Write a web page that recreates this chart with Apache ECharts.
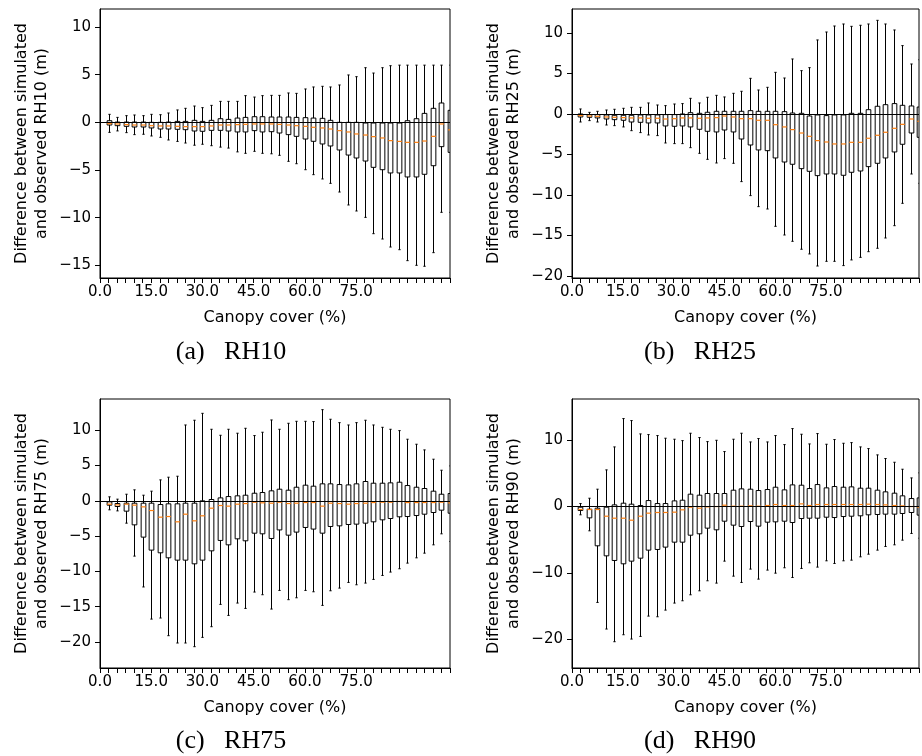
<!DOCTYPE html>
<html><head><meta charset="utf-8">
<script src="https://cdn.jsdelivr.net/npm/echarts@6/dist/echarts.min.js"></script>
<style>html,body{margin:0;padding:0;background:#fff}#c{width:922px;height:756px}</style>
</head><body><div id="c"></div>
<script>
// Box positions (1..41), canopy cover bins of 2.5 %
const positions = [1,2,3,4,5,6,7,8,9,10,11,12,13,14,15,16,17,18,19,20,21,22,23,24,25,26,27,28,29,30,31,32,33,34,35,36,37,38,39,40,41];
const xTickPositions = [0, 6, 12, 18, 24, 30];
const xTickLabels = ['0.0', '15.0', '30.0', '45.0', '60.0', '75.0'];

// RH10
const rh10High = [0.84,0.52,0.7,0.77,0.7,0.84,0.8,0.98,1.3,1.47,1.71,1.54,1.78,2.2,2.2,2.2,2.8,2.65,2.8,2.83,2.83,3.08,3.04,3.5,3.71,3.78,3.71,3.92,4.97,4.79,5.73,5.17,5.73,5.94,6.0,6.0,6.0,6.0,6.0,6.0,6.0];
const rh10Q3 = [0.17,0.03,0.03,0.03,0.03,0.0,0.0,0.03,0.1,0.1,0.21,0.1,0.21,0.38,0.31,0.45,0.52,0.59,0.59,0.56,0.56,0.56,0.52,0.49,0.45,0.42,0.21,0.0,0.0,0.0,-0.07,-0.07,-0.07,-0.07,-0.07,0.17,0.38,0.94,1.47,2.03,1.26];
const rh10Med = [-0.14,-0.17,-0.24,-0.28,-0.28,-0.35,-0.38,-0.38,-0.42,-0.45,-0.45,-0.45,-0.38,-0.28,-0.28,-0.24,-0.21,-0.17,-0.17,-0.17,-0.21,-0.28,-0.35,-0.42,-0.52,-0.59,-0.7,-0.87,-1.01,-1.22,-1.33,-1.5,-1.64,-1.92,-2.0,-2.1,-2.1,-1.96,-1.47,-0.17,-0.8];
const rh10Q1 = [-0.28,-0.35,-0.42,-0.49,-0.49,-0.59,-0.7,-0.7,-0.73,-0.77,-0.91,-0.94,-0.84,-0.84,-0.91,-1.01,-1.01,-0.87,-1.01,-0.98,-1.12,-1.29,-1.47,-1.75,-1.99,-2.27,-2.48,-2.9,-3.43,-3.74,-4.06,-4.72,-4.97,-5.31,-5.31,-5.73,-5.73,-5.45,-4.55,-2.55,-3.15];
const rh10Low = [-1.05,-0.9,-1.08,-1.29,-1.25,-1.43,-1.57,-1.85,-2.0,-2.17,-2.4,-2.3,-2.45,-2.6,-2.7,-3.1,-3.25,-3.04,-3.25,-3.3,-3.46,-4.09,-4.34,-4.97,-5.49,-5.94,-6.4,-7.31,-8.67,-9.3,-9.97,-11.68,-12.24,-13.08,-13.36,-14.51,-15.0,-15.1,-13.67,-9.44,-9.44];

// RH25
const rh25High = [0.62,0.2,0.33,0.49,0.58,0.7,0.82,0.82,1.36,1.11,1.03,1.23,1.28,1.93,1.36,2.06,2.3,2.1,2.55,2.8,4.4,2.96,3.29,5.14,4.44,6.79,5.35,5.72,9.14,10.12,10.86,11.11,10.82,10.95,11.11,11.56,11.11,10.37,8.44,6.17,6.7];
const rh25Q3 = [0.0,-0.08,-0.08,-0.12,-0.16,-0.16,-0.16,-0.12,-0.12,-0.12,-0.08,-0.08,0.0,0.16,0.08,0.21,0.33,0.33,0.33,0.33,0.41,0.33,0.33,0.33,0.29,0.12,0.08,-0.25,-0.12,-0.2,-0.12,-0.12,0.08,0.08,0.53,0.95,1.15,1.28,1.07,0.99,0.86];
const rh25Med = [-0.2,-0.25,-0.29,-0.37,-0.41,-0.45,-0.49,-0.49,-0.53,-0.53,-0.62,-0.58,-0.49,-0.49,-0.53,-0.49,-0.45,-0.25,-0.37,-0.58,-0.58,-0.78,-0.78,-1.32,-1.6,-1.93,-2.35,-2.76,-3.29,-3.46,-3.7,-3.7,-3.5,-3.5,-3.0,-2.63,-2.26,-1.77,-1.28,-0.62,-0.9];
const rh25Q1 = [-0.37,-0.41,-0.49,-0.62,-0.7,-0.78,-0.99,-1.03,-1.11,-1.11,-1.48,-1.52,-1.48,-1.6,-1.89,-2.14,-2.22,-1.98,-2.22,-3.09,-3.83,-4.44,-4.53,-5.43,-5.93,-6.21,-6.75,-7.08,-7.61,-7.41,-7.41,-7.57,-7.2,-7.04,-6.5,-6.09,-5.43,-4.69,-3.74,-2.35,-2.88];
const rh25Low = [-0.99,-0.82,-0.99,-1.36,-1.44,-1.6,-2.06,-2.3,-2.59,-2.67,-3.58,-3.66,-3.66,-4.16,-4.86,-5.6,-6.05,-5.51,-6.09,-8.35,-10.08,-11.44,-11.73,-13.87,-14.94,-15.72,-16.7,-17.28,-18.77,-18.19,-18.19,-18.72,-18.02,-17.7,-17.0,-16.58,-15.31,-13.79,-11.03,-7.41,-8.56];

// RH75
const rh75High = [0.57,0.24,0.94,1.56,0.8,1.37,2.97,3.35,3.49,10.75,11.42,12.4,10.14,9.29,10.14,9.58,10.28,9.25,9.72,11.46,10.14,10.99,11.27,11.27,11.23,12.92,11.56,11.08,10.75,11.08,11.42,10.75,10.42,10.14,9.95,8.73,8.02,7.22,5.9,4.34,4.95];
const rh75Q3 = [-0.14,-0.38,-0.33,-0.33,-0.33,-0.33,-0.52,-0.42,-0.42,-0.33,-0.33,0.0,0.19,0.42,0.61,0.71,0.8,1.08,1.18,1.42,1.65,1.51,1.93,2.22,2.08,2.41,2.41,2.31,2.26,2.41,2.74,2.5,2.5,2.55,2.64,2.17,1.93,1.75,1.37,0.94,1.04];
const rh75Med = [-0.47,-0.57,-0.47,-0.61,-0.85,-1.37,-2.31,-2.22,-2.97,-1.89,-2.83,-2.12,-1.04,-0.66,-0.75,-0.47,-0.38,-0.19,-0.28,-0.33,-0.19,-0.38,-0.33,-0.24,-0.24,-0.75,-0.33,-0.38,-0.47,-0.38,-0.33,-0.24,-0.19,-0.19,-0.09,-0.24,-0.24,-0.24,-0.24,-0.19,-0.28];
const rh75Q1 = [-0.61,-0.8,-1.46,-3.4,-5.14,-6.98,-7.36,-8.07,-8.4,-8.4,-8.92,-8.4,-7.08,-5.61,-6.23,-5.38,-5.66,-4.58,-4.67,-5.33,-4.12,-4.86,-4.43,-3.77,-4.0,-4.58,-3.63,-3.54,-3.35,-3.3,-3.16,-2.97,-2.69,-2.5,-2.26,-2.22,-2.08,-1.89,-1.65,-1.32,-1.75];
const rh75Low = [-1.27,-1.42,-3.16,-7.83,-12.2,-16.75,-16.6,-19.1,-20.14,-20.14,-20.66,-19.34,-17.83,-14.67,-16.23,-14.48,-15.24,-12.92,-13.3,-15.33,-12.69,-14.0,-13.73,-12.69,-12.88,-14.81,-12.74,-12.36,-11.56,-11.89,-11.65,-11.13,-10.57,-10.09,-9.62,-8.82,-8.07,-7.41,-6.23,-4.67,-5.75];

// RH90
const rh90High = [0.45,1.25,2.61,5.52,8.98,13.25,12.95,10.94,10.84,10.69,10.29,10.14,9.93,11.04,10.39,9.78,9.98,8.28,10.14,11.04,9.73,10.24,9.73,10.69,9.33,11.74,10.89,9.43,10.99,9.38,10.09,9.53,9.63,8.98,8.73,7.78,7.23,6.67,5.62,4.31,5.07];
const rh90Q3 = [-0.1,-0.4,-0.25,-0.1,0.25,0.5,0.35,0.15,0.9,0.45,0.45,0.85,0.95,1.86,1.71,1.96,1.96,1.96,2.46,2.66,2.61,2.41,2.56,2.91,2.51,3.26,3.21,2.71,3.31,2.81,3.01,2.91,2.96,2.76,2.76,2.46,2.21,2.01,1.61,1.2,1.3];
const rh90Med = [-0.45,-0.45,-0.45,-1.46,-1.76,-1.76,-2.06,-1.46,-1.0,-0.9,-0.9,-0.85,-0.5,-0.1,-0.25,-0.05,0.0,0.2,0.05,0.05,0.1,0.05,0.15,0.3,0.15,0.15,0.4,0.15,0.3,0.3,0.3,0.3,0.3,0.3,0.35,0.3,0.25,0.15,0.1,0.0,-0.1];
const rh90Q1 = [-0.6,-1.71,-5.92,-7.43,-8.13,-8.63,-8.23,-7.78,-6.57,-6.47,-6.12,-5.37,-5.37,-4.32,-4.11,-3.26,-3.51,-2.21,-2.81,-3.01,-2.26,-2.96,-2.36,-2.31,-2.21,-2.41,-1.81,-1.76,-1.76,-1.61,-1.66,-1.51,-1.46,-1.4,-1.25,-1.2,-1.15,-1.15,-1.05,-0.9,-1.3];
const rh90Low = [-1.25,-3.66,-14.45,-18.46,-20.37,-19.32,-19.97,-19.57,-16.51,-16.61,-15.61,-14.55,-14.2,-13.3,-12.7,-11.19,-11.54,-8.23,-10.49,-11.44,-9.43,-10.94,-9.58,-10.04,-9.23,-10.69,-9.33,-8.48,-9.13,-8.18,-8.58,-8.18,-8.08,-7.58,-7.18,-6.57,-6.02,-5.77,-5.07,-4.06,-4.77];

const panelNames = ['RH10', 'RH25', 'RH75', 'RH90'];
const panelCaptions = ['(a)\u2002 RH10', '(b)\u2002 RH25', '(c)\u2002 RH75', '(d)\u2002 RH90'];
const panelData = [
  [rh10Low, rh10Q1, rh10Med, rh10Q3, rh10High],
  [rh25Low, rh25Q1, rh25Med, rh25Q3, rh25High],
  [rh75Low, rh75Q1, rh75Med, rh75Q3, rh75High],
  [rh90Low, rh90Q1, rh90Med, rh90Q3, rh90High]
];
const yMin = [-16.33, -20.25, -23.68, -24.33];
const yMax = [11.89, 12.96, 14.43, 16.2];
const yStep = [5, 5, 5, 10];

const gridBoxes = [
  {left: 100, top: 9, width: 350, height: 269},
  {left: 572, top: 9, width: 350, height: 269},
  {left: 100, top: 399, width: 350, height: 269},
  {left: 572, top: 399, width: 350, height: 269}
];
const captionPos = [[231, 339], [700, 339], [231, 728], [700, 728]];

const FONT = 'DejaVu Sans';

function renderBox(params, api) {
  const x = api.value(0);
  const pLo = api.coord([x, api.value(1)]);
  const pQ1 = api.coord([x, api.value(2)]);
  const pMed = api.coord([x, api.value(3)]);
  const pQ3 = api.coord([x, api.value(4)]);
  const pHi = api.coord([x, api.value(5)]);
  const unit = api.size([1, 0])[0];
  const bw = unit * 0.55, cw = unit * 0.27;
  const cx = Math.round(pLo[0]) + 0.5;
  const st = {stroke: '#000', lineWidth: 1, fill: null};
  return {
    type: 'group',
    children: [
      {type: 'line', shape: {x1: cx, y1: pQ3[1], x2: cx, y2: pHi[1]}, style: st},
      {type: 'line', shape: {x1: cx, y1: pQ1[1], x2: cx, y2: pLo[1]}, style: st},
      {type: 'line', shape: {x1: cx - cw / 2, y1: pHi[1], x2: cx + cw / 2, y2: pHi[1]}, style: st},
      {type: 'line', shape: {x1: cx - cw / 2, y1: pLo[1], x2: cx + cw / 2, y2: pLo[1]}, style: st},
      {type: 'rect', shape: {x: cx - bw / 2, y: pQ3[1], width: bw, height: pQ1[1] - pQ3[1]}, style: {stroke: '#000', lineWidth: 1, fill: 'none'}},
      {type: 'line', shape: {x1: cx - bw / 2, y1: pMed[1], x2: cx + bw / 2, y2: pMed[1]}, style: {stroke: '#ff7f0e', lineWidth: 1.2}}
    ]
  };
}

const grid = [], xAxis = [], yAxis = [], series = [], title = [];
panelNames.forEach((name, i) => {
  grid.push(Object.assign({show: true, borderColor: '#000', borderWidth: 1, backgroundColor: 'transparent'}, gridBoxes[i]));
  xAxis.push({
    type: 'value', gridIndex: i, min: 0, max: 41, interval: 1,
    name: 'Canopy cover (%)', nameLocation: 'middle', nameGap: 32,
    nameTextStyle: {fontFamily: FONT, fontSize: 16, color: '#000'},
    axisLine: {show: true, onZero: false, lineStyle: {color: '#000', width: 1}},
    axisTick: {show: true, length: 5, inside: false, lineStyle: {color: '#000', width: 1}},
    splitLine: {show: false},
    axisLabel: {
      show: true, margin: 7, fontFamily: FONT, fontSize: 15, color: '#000', interval: 0,
      hideOverlap: false,
      formatter: v => { const k = xTickPositions.indexOf(Math.round(v)); return k >= 0 ? xTickLabels[k] : ''; }
    }
  });
  const step = yStep[i];
  yAxis.push({
    type: 'value', gridIndex: i, min: yMin[i], max: yMax[i],
    minInterval: step, maxInterval: step, splitNumber: 6,
    name: 'Difference between simulated\nand observed ' + name + ' (m)',
    nameLocation: 'middle', nameGap: 48, nameRotate: 90,
    nameTextStyle: {fontFamily: FONT, fontSize: 16, color: '#000', lineHeight: 20, align: 'center'},
    axisLine: {show: true, onZero: false, lineStyle: {color: '#000', width: 1}},
    axisTick: {show: true, length: 5, inside: false, lineStyle: {color: '#000', width: 1}},
    splitLine: {show: false},
    axisLabel: {
      show: true, margin: 9, fontFamily: FONT, fontSize: 15, color: '#000',
      showMinLabel: false, showMaxLabel: false,
      formatter: v => {
        const r = Math.round(v / step) * step;
        if (Math.abs(v - r) > 1e-6) return '';
        return r < 0 ? '\u2212' + Math.abs(r) : String(r);
      }
    }
  });
  const d = panelData[i];
  const rows = positions.map((p, k) => [p, d[0][k], d[1][k], d[2][k], d[3][k], d[4][k]]);
  series.push({
    type: 'custom', xAxisIndex: i, yAxisIndex: i, clip: true, silent: true,
    renderItem: renderBox,
    encode: {x: 0, y: [1, 2, 3, 4, 5]},
    data: rows,
    markLine: {
      silent: true, symbol: ['none', 'none'], label: {show: false},
      lineStyle: {color: '#000', width: 1, type: 'solid'},
      data: [{yAxis: 0}]
    }
  });
  title.push({
    text: panelCaptions[i], left: captionPos[i][0], top: captionPos[i][1], textAlign: 'center', padding: 0,
    textStyle: {fontFamily: 'Liberation Serif', fontSize: 26, fontWeight: 'normal', color: '#000'}
  });
});

const chart = echarts.init(document.getElementById('c'), null, {renderer: 'canvas'});
chart.setOption({animation: false, backgroundColor: '#fff', title, grid, xAxis, yAxis, series});
</script>
</body></html>
